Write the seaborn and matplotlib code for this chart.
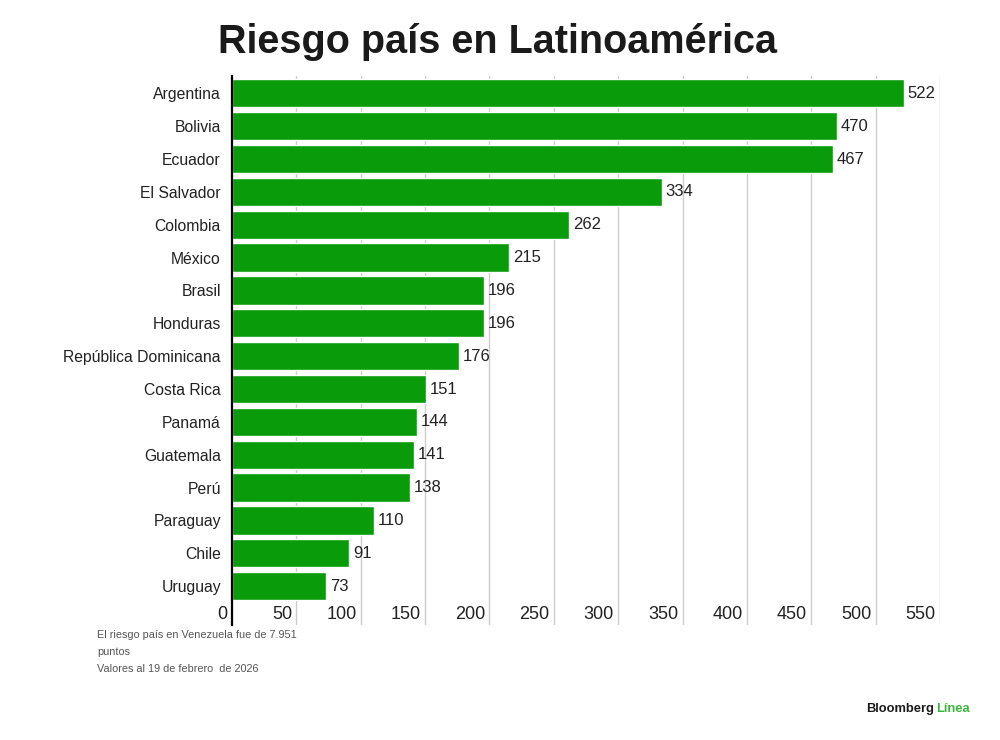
import numpy as np
import pandas as pd
import matplotlib.pyplot as plt
import matplotlib.transforms as mtransforms
import seaborn as sns

# Data
countries = ['Argentina', 'Bolivia', 'Ecuador', 'El Salvador', 'Colombia', 'México',
             'Brasil', 'Honduras', 'República Dominicana', 'Costa Rica', 'Panamá',
             'Guatemala', 'Perú', 'Paraguay', 'Chile', 'Uruguay']
risk = [522, 470, 467, 334, 262, 215, 196, 196, 176, 151, 144, 141, 138, 110, 91, 73]
x_ticks = [0, 50, 100, 150, 200, 250, 300, 350, 400, 450, 500, 550]

df = pd.DataFrame({'País': countries, 'Riesgo': risk})

sns.set_style('white')
plt.rcParams['font.family'] = ['Liberation Sans', 'DejaVu Sans']

bar_color = '#0a9b0a'
text_color = '#222222'

fig = plt.figure(figsize=(10, 7.4), dpi=100)
ax = fig.add_axes([0.232, 0.155, 0.708, 0.742])

sns.barplot(data=df, x='Riesgo', y='País', color=bar_color, saturation=1,
            width=0.86, ax=ax, zorder=2)

ax.set_xlim(0, 550)
ax.set_ylim(16.19, -0.52)

# gridlines
for t in x_ticks[1:]:
    ax.axvline(t, color='#cccccc', linewidth=1, zorder=0)

for s in ['top', 'right', 'bottom']:
    ax.spines[s].set_visible(False)
ax.spines['left'].set_color('black')
ax.spines['left'].set_linewidth(1.6)
ax.spines['left'].set_zorder(3)

ax.set_xlabel('')
ax.set_ylabel('')
ax.set_xticks([])
ax.tick_params(axis='y', length=0, pad=8, labelsize=11.3, labelcolor=text_color)

# x tick labels drawn inside the plot area, right-aligned to gridlines
offset = mtransforms.ScaledTranslation(-3 / 72, 0, fig.dpi_scale_trans)
trans = mtransforms.blended_transform_factory(ax.transData, ax.transAxes) + offset
for t in x_ticks:
    ax.text(t, 0.005, str(t), transform=trans, ha='right', va='bottom',
            fontsize=13, color=text_color)

# value labels
for i, v in enumerate(risk):
    ax.text(v + 3, i, str(v), ha='left', va='center', fontsize=12, color=text_color)

fig.text(0.497, 0.943, 'Riesgo país en Latinoamérica', ha='center', va='center',
         fontsize=28.5, fontweight='bold', color='#1a1a1a')

fig.text(0.097, 0.142, 'El riesgo país en Venezuela fue de 7.951', ha='left', va='center',
         fontsize=7.8, color='#555555')
fig.text(0.097, 0.119, 'puntos', ha='left', va='center', fontsize=7.8, color='#555555')
fig.text(0.097, 0.096, 'Valores al 19 de febrero  de 2026', ha='left', va='center',
         fontsize=7.8, color='#555555')

fig.text(0.934, 0.042, 'Bloomberg', ha='right', va='center', fontsize=9.3,
         fontweight='bold', color='#1a1a1a')
fig.text(0.936, 0.042, 'Línea', ha='left', va='center', fontsize=9.3,
         fontweight='bold', color='#3cb43c')

fig.savefig('out.png', dpi=100, facecolor='white')
